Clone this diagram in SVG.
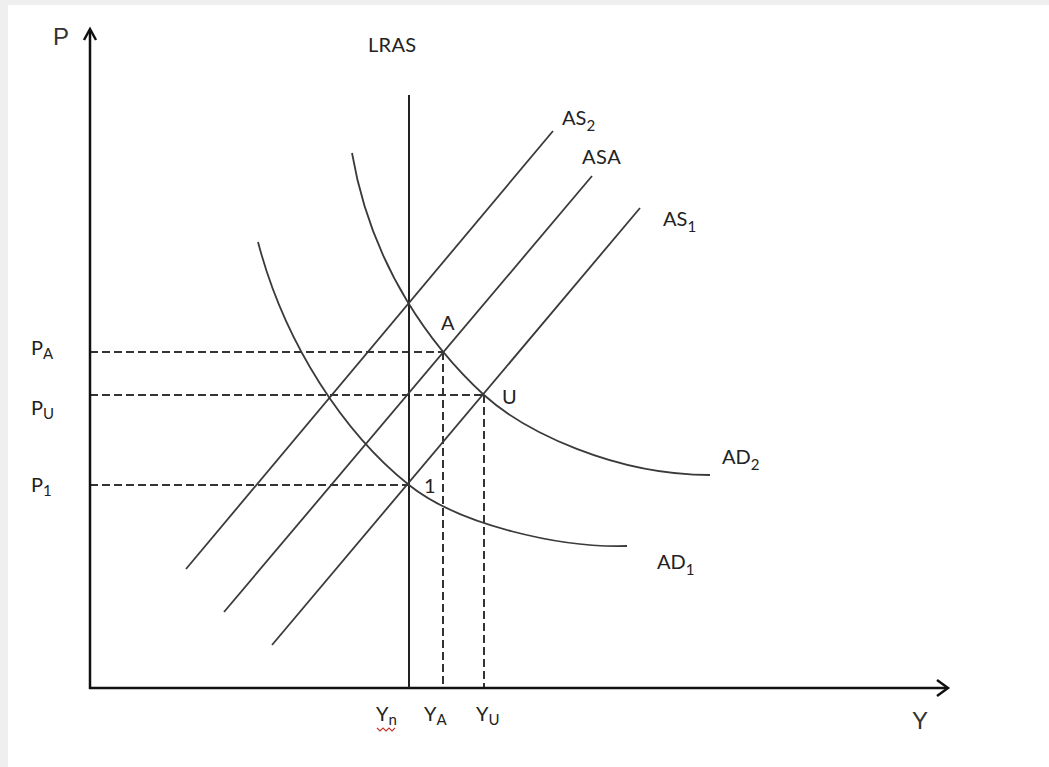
<svg xmlns="http://www.w3.org/2000/svg" width="1049" height="767" viewBox="0 0 1049 767">
<style>
.axis{stroke:#111;stroke-width:2.5;fill:none}
.curve{stroke:#3a3a3a;stroke-width:1.8;fill:none}
.lras{stroke:#222;stroke-width:2;fill:none}
.dash{stroke:#333;stroke-width:2;stroke-dasharray:8 4;fill:none}
.big{font-family:"Liberation Sans",Arial,sans-serif;font-size:24px;fill:#333}
.lbl{font-family:Lato,"Liberation Sans",sans-serif;font-size:20px;fill:#222}
.sub{font-size:15px}
</style>
<rect width="1049" height="767" fill="#efefef"/>
<rect x="8" y="5" width="1041" height="762" fill="#ffffff"/>
<g id="connectors">
<g id="guides">
<line class="dash" x1="90" y1="352" x2="443" y2="352"/>
<line class="dash" x1="90" y1="395" x2="484" y2="395"/>
<line class="dash" x1="90" y1="485" x2="409" y2="485"/>
<line class="dash" x1="443" y1="352" x2="443" y2="688"/>
<line class="dash" x1="484" y1="395" x2="484" y2="688"/>
</g>
<g id="axes">
<line class="axis" x1="90" y1="689" x2="90" y2="30"/>
<polyline class="axis" points="84,40 90,29 96,40"/>
<line class="axis" x1="89" y1="688" x2="947" y2="688"/>
<polyline class="axis" points="937,680 948,688 937,696"/>
</g>
</g>
<g id="LRAS"><line class="lras" x1="409" y1="95" x2="409" y2="688"/></g>
<g id="AS2"><line class="curve" x1="186" y1="569" x2="553" y2="131"/></g>
<g id="ASA"><line class="curve" x1="224" y1="612" x2="592" y2="176"/></g>
<g id="AS1"><line class="curve" x1="272" y1="645" x2="640" y2="208"/></g>
<g id="AD2"><path class="curve" d="M352,153 C372,270 435,350 484,395 C525,432 615,475 710,475"/></g>
<g id="AD1"><path class="curve" d="M258,242 C285,345 345,434 409,485 C459,525 560,548 627,546"/></g>
<g id="labels">
<text class="big" x="53" y="45">P</text>
<text class="big" x="912" y="729">Y</text>
<text class="lbl" x="368" y="52" font-size="17" letter-spacing="0.3">LRAS</text>
<text class="lbl" x="562" y="125">AS<tspan class="sub" dy="6">2</tspan></text>
<text class="lbl" x="582" y="164" letter-spacing="0.5">ASA</text>
<text class="lbl" x="663" y="226">AS<tspan class="sub" dy="6">1</tspan></text>
<text class="lbl" x="722" y="464">AD<tspan class="sub" dy="6">2</tspan></text>
<text class="lbl" x="657" y="569">AD<tspan class="sub" dy="6">1</tspan></text>
<text class="lbl" x="441" y="330">A</text>
<text class="lbl" x="502" y="404">U</text>
<text class="lbl" x="424" y="493">1</text>
<text class="lbl" x="31" y="355">P<tspan class="sub" dy="4">A</tspan></text>
<text class="lbl" x="31" y="415">P<tspan class="sub" dy="4">U</tspan></text>
<text class="lbl" x="31" y="492">P<tspan class="sub" dy="4">1</tspan></text>
<text class="lbl" x="376" y="721">Y<tspan class="sub" dy="4">n</tspan></text>
<text class="lbl" x="424" y="721">Y<tspan class="sub" dy="4">A</tspan></text>
<text class="lbl" x="476" y="721">Y<tspan class="sub" dy="4">U</tspan></text>
</g>
<polyline points="377,728 380,731 383,728 386,731 389,728 392,731 395,728" fill="none" stroke="#c0392b" stroke-width="1.2"/>
</svg>
